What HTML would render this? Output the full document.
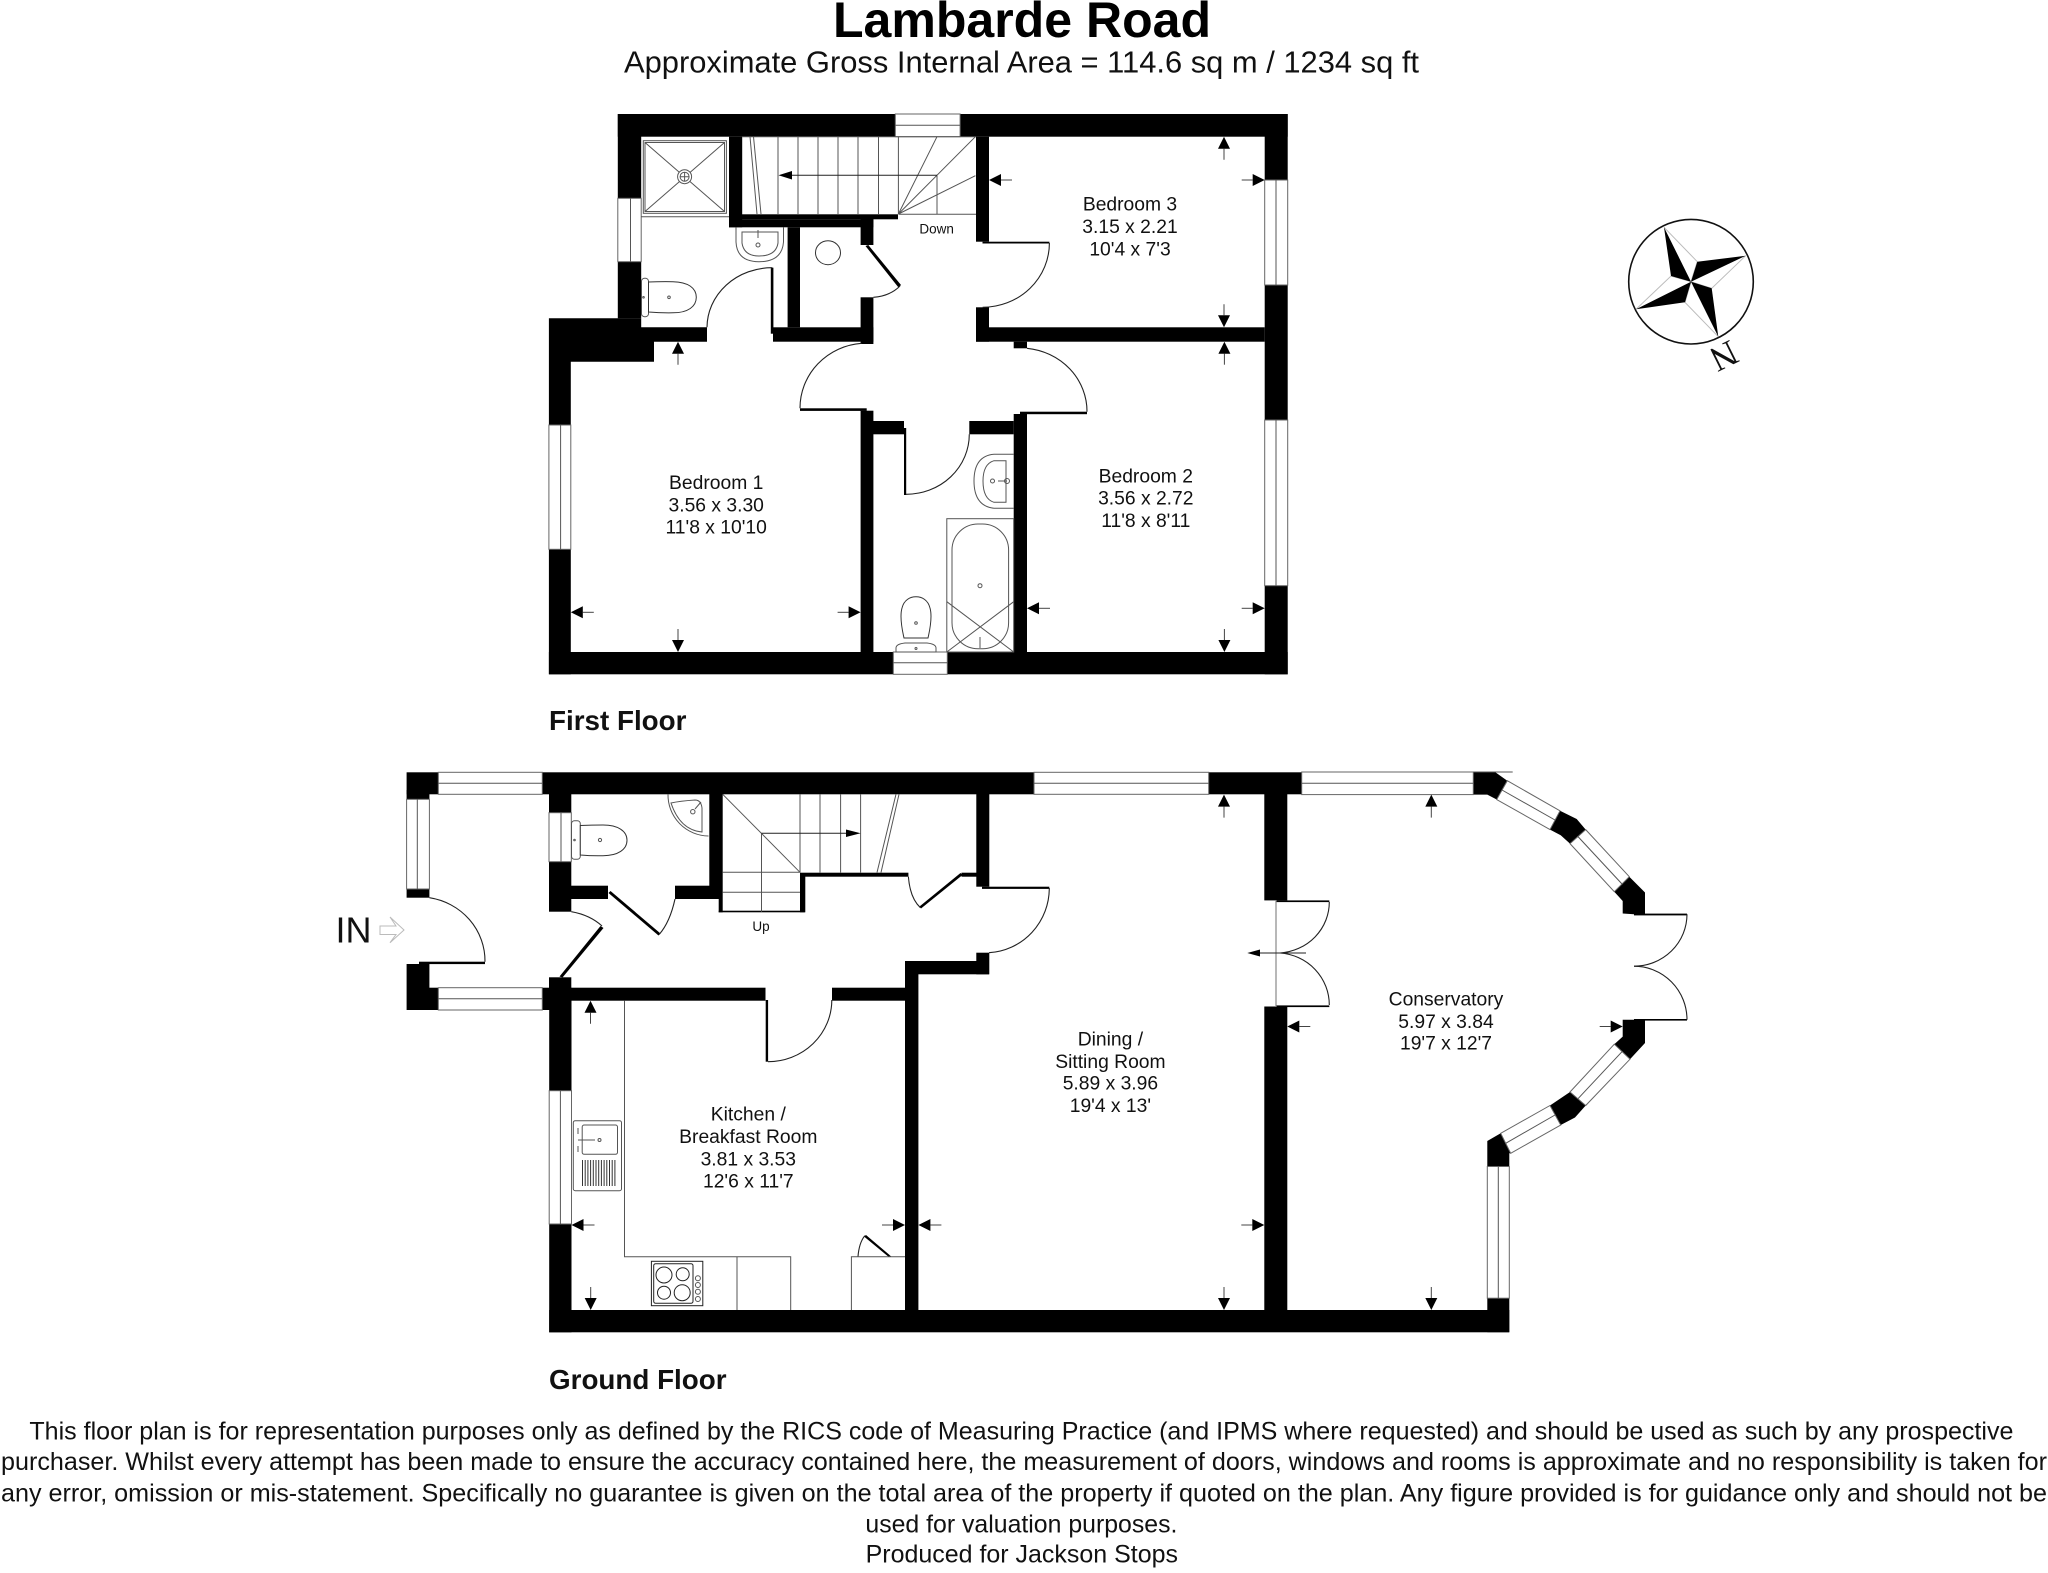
<!DOCTYPE html>
<html><head><meta charset="utf-8"><title>Lambarde Road</title>
<style>html,body{margin:0;padding:0;background:#fff}svg{display:block}
text{font-family:"Liberation Sans",sans-serif;fill:#111}
.r{font-size:19.3px;text-anchor:middle}
.w{fill:#fff;stroke:#666;stroke-width:1}
.l{fill:none;stroke:#555;stroke-width:1}
.a{fill:none;stroke:#222;stroke-width:1.1}
.f{font-size:24.8px}
</style></head><body>
<svg xmlns="http://www.w3.org/2000/svg" width="2048" height="1573" viewBox="0 0 2048 1573">
<defs>
<g id="u"><path d="M0 12V23" stroke="#444" fill="none"/><polygon points="0,0 6,12 -6,12" fill="#000"/></g>
<g id="d"><path d="M0 -12V-23" stroke="#444" fill="none"/><polygon points="0,0 6,-12 -6,-12" fill="#000"/></g>
<g id="lf"><path d="M12 0H23" stroke="#444" fill="none"/><polygon points="0,0 12,-6 12,6" fill="#000"/></g>
<g id="rt"><path d="M-12 0H-23" stroke="#444" fill="none"/><polygon points="0,0 -12,-6 -12,6" fill="#000"/></g>
</defs>
<rect width="2048" height="1573" fill="#fff"/>

<!-- titles -->
<text x="1022" y="37" text-anchor="middle" font-weight="bold" font-size="50" textLength="378" lengthAdjust="spacingAndGlyphs" style="fill:#000">Lambarde Road</text>
<text x="624" y="72.3" font-size="30.2" textLength="795" lengthAdjust="spacingAndGlyphs">Approximate Gross Internal Area = 114.6 sq m / 1234 sq ft</text>

<!-- FIRST FLOOR walls -->
<g fill="#000">
<rect x="617.8" y="114" width="277.5" height="22.7"/>
<rect x="960.1" y="114" width="327.6" height="22.7"/>
<rect x="617.8" y="114" width="23.4" height="84.3"/>
<rect x="617.8" y="261.7" width="23.4" height="56.6"/>
<polygon points="548.9,318.3 641.2,318.3 641.2,327.3 707,327.3 707,341.7 654,341.7 654,361.7 570.8,361.7 570.8,425 548.9,425"/>
<rect x="548.9" y="549.3" width="21.9" height="125"/>
<rect x="548.9" y="652" width="344.4" height="22.3"/>
<rect x="947.3" y="652" width="340.4" height="22.3"/>
<rect x="729" y="136.7" width="13.2" height="90.6"/>
<rect x="742" y="214.3" width="156" height="5"/>
<rect x="729" y="219.3" width="144.4" height="8"/>
<rect x="860.6" y="219" width="12.8" height="26"/>
<rect x="860.6" y="297.3" width="12.8" height="46.7"/>
<rect x="787.6" y="227.3" width="12.4" height="100"/>
<rect x="773" y="327.3" width="100.4" height="14.4"/>
<rect x="770.8" y="267.7" width="2.6" height="66"/>
<rect x="976" y="136.7" width="13" height="105"/>
<rect x="976" y="307.3" width="13" height="34.4"/>
<rect x="976" y="327.3" width="288.7" height="14.4"/>
<rect x="1013.7" y="341.7" width="13.3" height="6.6"/>
<rect x="1264.7" y="114" width="23" height="66"/>
<rect x="1264.7" y="285" width="23" height="135"/>
<rect x="1264.7" y="585.7" width="23" height="88.6"/>
<rect x="860.6" y="410.7" width="12.8" height="241.3"/>
<rect x="866" y="421" width="38" height="13.3"/>
<rect x="969.3" y="421" width="44.4" height="13.3"/>
<rect x="1013.7" y="414" width="13.3" height="238"/>
<rect x="904" y="428" width="2.2" height="67"/>
<rect x="800" y="408.3" width="66.7" height="2.6"/>
<rect x="1020" y="411.7" width="67" height="2.5"/>
<rect x="982.5" y="241.7" width="66.9" height="1.8"/>
<polygon points="865.5,246 868.3,245 901,285 898.5,287.5"/>
</g>
<!-- first floor windows -->
<rect class="w" x="895.3" y="114" width="64.8" height="22.7"/><path class="l" d="M895.3 125.3H960"/>
<rect class="w" x="617.8" y="198.3" width="23.4" height="63.4"/><path class="l" d="M630.5 198.3V261.7"/>
<rect class="w" x="1264.7" y="180" width="23" height="105"/><path class="l" d="M1276 180V285"/>
<rect class="w" x="1264.7" y="420" width="23" height="165.7"/><path class="l" d="M1276 420V585.7"/>
<rect class="w" x="548.9" y="425" width="21.9" height="124.3"/><path class="l" d="M560.6 425V549.3"/>
<rect class="w" x="893.3" y="652" width="54" height="22.3"/><path class="l" d="M893.3 662.7H947.3"/>
<!-- door arcs first floor -->
<g class="a">
<path d="M1049.4 243A66.8 64.3 0 0 1 982.6 307.3"/>
<path d="M772.3 267.7A65 60 0 0 0 707 327.3"/>
<path d="M900 286Q890 296 873.4 297.3"/>
<path d="M800 408.3A66.7 65 0 0 1 861.6 343.3"/>
<path d="M1087 411.7A67 63.4 0 0 0 1027 348.3"/>
<path d="M906 494.3A63 60 0 0 0 969.3 434.3"/>
</g>
<!-- first floor stairs -->
<g class="l">
<path d="M778 136.7V214M798 136.7V214M818 136.7V214M838 136.7V214M858 136.7V214M878.5 136.7V214M898.4 136.7V214"/>
<path d="M898.4 214L937 136.7M898.4 214L975.4 136.7M898.4 214L975.4 175.7M937 175.7V214.3M898.4 214.3H976M742 136.7H976"/>
<path d="M750 136.7L757 214M753.5 136.7L761 214"/>
</g>
<path d="M937 175.3H785" stroke="#222" fill="none"/><polygon points="778.5,175.3 792,171 792,179.5" fill="#000"/>
<text x="936.6" y="233.3" font-size="13.5" text-anchor="middle">Down</text>
<!-- shower -->
<g class="l">
<rect x="643.3" y="140.7" width="83.1" height="72.6"/><rect x="645" y="142.5" width="79.5" height="69"/>
<path d="M641 216.7H729M645 142.5L724.5 211.5M724.5 142.5L645 211.5"/>
<circle cx="684.6" cy="176.7" r="7" fill="#fff"/><circle cx="684.6" cy="176.7" r="4.5"/><path d="M680 176.7H689M684.6 172V181"/>
<!-- basin -->
<path d="M736 227.3V242Q737 261.7 759 261.7Q782 261.7 783.5 242V227.3"/>
<path d="M742 232V243Q744 256 759 256Q776 256 778 243V232H742Z"/>
<circle cx="758" cy="245" r="2"/><path d="M758 230V238"/>
<!-- wc -->
<rect x="641.5" y="278.3" width="7" height="38.4" rx="3"/>
<path d="M648.5 282Q660 281.5 673 281.7C688 282 696.3 288 696.3 297.3C696.3 306.5 688 312.8 673 312.8Q660 313 648.5 312Z" fill="#fff" stroke="#333"/>
<circle cx="669" cy="297.3" r="1.3"/><circle cx="643.5" cy="297.3" r="0.8"/>
<!-- cupboard -->
<ellipse cx="828" cy="252.7" rx="12.5" ry="12" stroke="#333"/>
<!-- bath basin -->
<path d="M1013.7 454.3H994Q974 456 974 481Q974 506 994 508.3H1013.7"/>
<path d="M1006 460.7H994Q983 464 983 481Q983 499 994 502.3H1006V460.7Z"/>
<circle cx="992.5" cy="481" r="2"/><circle cx="1007" cy="481" r="2.5"/><path d="M998 481H1007"/>
<!-- bath -->
<rect x="946.8" y="518.7" width="66.9" height="133.3"/>
<rect x="952" y="524" width="56.6" height="124.7" rx="26"/>
<circle cx="980" cy="585.7" r="2"/><path d="M946.8 601.7L1013.7 652M946.8 652L1013.7 601.7M980 637V648"/>
<!-- bath wc -->
<path d="M904 638C901 625 900 615 902 608C904 600 910 596.7 916 596.7C922 596.7 928 600 930 608C932 615 931 625 928 638Z" fill="#fff" stroke="#333"/>
<path d="M896 652V648Q896 644 905 643H927Q936 644 936 648V652H896Z"/>
<circle cx="916" cy="623" r="1.3"/><circle cx="916" cy="648.5" r="1"/>
</g>

<!-- arrows first floor -->
<use href="#u" x="1224" y="136.7"/><use href="#d" x="1224" y="327.3"/><use href="#lf" x="989" y="180"/><use href="#rt" x="1264.7" y="180"/>
<use href="#u" x="1224.4" y="341.7"/><use href="#d" x="1224.4" y="652"/><use href="#lf" x="1027" y="608.3"/><use href="#rt" x="1264.7" y="608.3"/>
<use href="#u" x="678" y="341.7"/><use href="#d" x="678" y="652"/><use href="#lf" x="570.8" y="612.3"/><use href="#rt" x="860.6" y="612.3"/>

<!-- room labels first floor -->
<text class="r" x="1130" y="210.7">Bedroom 3</text><text class="r" x="1130" y="233">3.15 x 2.21</text><text class="r" x="1130" y="255.3">10'4 x 7'3</text>
<text class="r" x="716.2" y="489">Bedroom 1</text><text class="r" x="716.2" y="511.3">3.56 x 3.30</text><text class="r" x="716.2" y="533.6">11'8 x 10'10</text>
<text class="r" x="1145.8" y="482.3">Bedroom 2</text><text class="r" x="1145.8" y="504.6">3.56 x 2.72</text><text class="r" x="1145.8" y="527">11'8 x 8'11</text>
<text x="549" y="730" font-weight="bold" font-size="27.8">First Floor</text>

<!-- compass -->
<circle cx="1691" cy="281.7" r="62.3" fill="#fff" stroke="#111" stroke-width="1.6"/>
<path d="M1664 227.3L1697.3 261.7L1691 281.7M1745.7 255.7L1711.7 288.3L1691 281.7M1718.3 336.7L1685 302.3L1691 281.7M1636 309.3L1671 276L1691 281.7" fill="none" stroke="#bbb" stroke-width="1"/>
<g fill="#000">
<polygon points="1691,281.7 1664,227.3 1671,276"/>
<polygon points="1691,281.7 1745.7,255.7 1697.3,261.7"/>
<polygon points="1691,281.7 1711.7,288.3 1718.3,336.7"/>
<polygon points="1691,281.7 1685,302.3 1636,309.3"/>
</g>
<text x="0" y="0" transform="translate(1724,356) rotate(153.6)" text-anchor="middle" dominant-baseline="central" font-size="36" style="font-family:'Liberation Serif',serif">N</text>

<!-- GROUND FLOOR walls -->
<g fill="#000">
<rect x="406.6" y="772.3" width="31.7" height="22"/>
<rect x="406.6" y="790" width="22.8" height="9.3"/>
<rect x="406.6" y="889" width="22.8" height="8.7"/>
<rect x="406.6" y="964" width="22.8" height="46"/>
<rect x="420" y="987.7" width="18.3" height="22.3"/>
<rect x="419" y="961.7" width="66" height="2.4"/>
<rect x="542.3" y="772.3" width="491.7" height="22"/>
<rect x="1208.7" y="772.3" width="93" height="22"/>
<rect x="542.3" y="987.7" width="29" height="22.3"/>
<rect x="549" y="794" width="22.3" height="18.7"/>
<rect x="549" y="861.7" width="22.3" height="50"/>
<rect x="549" y="977.3" width="22.3" height="12"/>
<rect x="571" y="885.7" width="37" height="13.3"/>
<rect x="675" y="885.7" width="43.7" height="13.3"/>
<rect x="709.3" y="794" width="13.4" height="105"/>
<rect x="718.7" y="899" width="4" height="13.3"/>
<rect x="718.7" y="910.7" width="86" height="1.6"/>
<rect x="800" y="873" width="5.3" height="39.3"/>
<rect x="800" y="872.7" width="108.4" height="4"/>
<rect x="961.5" y="872.7" width="15" height="4"/>
<rect x="976.3" y="794" width="13" height="92.7"/>
<rect x="982" y="886.7" width="67.3" height="2.2"/>
<rect x="976.3" y="952.7" width="13" height="21.6"/>
<rect x="905" y="961" width="84" height="13.3"/>
<rect x="905" y="961" width="13.4" height="371"/>
<rect x="571" y="987.7" width="194.5" height="13"/>
<rect x="832" y="987.7" width="73" height="13"/>
<rect x="765.7" y="1000" width="2.4" height="61.7"/>
<rect x="549.2" y="987.7" width="22.3" height="103"/>
<rect x="549.2" y="1224" width="22.3" height="108.3"/>
<rect x="549.2" y="1310" width="960.1" height="22.3"/>
<rect x="1264.3" y="794" width="23" height="106.4"/>
<rect x="1264.3" y="1006.5" width="23" height="310"/>
<rect x="1276" y="900.4" width="53.3" height="1.7"/>
<rect x="1276" y="1005.4" width="53.3" height="1.7"/>
<rect x="1487.3" y="1298.2" width="22" height="34"/>
<rect x="1634" y="913.6" width="53" height="1.8"/>
<rect x="1634" y="1019" width="53" height="1.6"/>
<polygon points="1473.3,772 1495,772 1507.3,780.7 1496.7,799.5 1487.3,794.6 1473.3,794.6"/>
<polygon points="1560,810.8 1576.7,819 1585.7,829.6 1570,843.6 1560.7,835.3 1550,829.6"/>
<polygon points="1629.3,876.7 1645,892.5 1645,915 1622.7,913.5 1622.7,901 1614.3,891.7"/>
<polygon points="1622.7,1019.7 1645,1019.7 1645,1043 1630,1059.2 1614.3,1044.2 1622.7,1036.6"/>
<polygon points="1570,1092 1550,1105.5 1560.7,1125 1575,1117.5 1585.7,1105.5"/>
<polygon points="1500.7,1133.3 1487.3,1141 1487.3,1166.5 1509.3,1166.5 1509.3,1153.3 1510.7,1153.3"/>
<!-- thick door leaves -->
<polygon points="608.5,893 610.5,891 660.5,933.5 658.5,935.5"/>
<polygon points="600.5,926 603.5,928 562.5,977.5 559.5,976.5"/>
<polygon points="960.5,873 962.5,875 921,908.5 919.5,906.5"/>
<polygon points="864,1236.5 866,1235 891.5,1256.7 888.5,1256.7"/>
</g>
<!-- ground windows -->
<rect class="w" x="438.3" y="772.3" width="104" height="22"/><path class="l" d="M438.3 783.3H542.3"/>
<rect class="w" x="406.6" y="799.3" width="22.8" height="89.7"/><path class="l" d="M417.3 799.3V889"/>
<rect class="w" x="438.3" y="987.7" width="104" height="22.3"/><path class="l" d="M438.3 998.7H542.3"/>
<rect class="w" x="549" y="812.7" width="22.3" height="49"/><path class="l" d="M561 812.7V861.7"/>
<rect class="w" x="1034" y="772.3" width="174.7" height="22"/><path class="l" d="M1034 783.3H1208.7"/>
<rect class="w" x="1301.7" y="772" width="171.6" height="22.6"/><path class="l" d="M1301.7 783.3H1473.3M1473 772H1512.7"/>
<rect class="w" x="549.2" y="1090.7" width="22.3" height="133.3"/><path class="l" d="M560.4 1090.7V1224"/>
<rect class="w" x="1487.3" y="1166.5" width="22" height="131.7"/><path class="l" d="M1498.3 1166.5V1298.2"/>
<polygon class="w" points="1507.3,780.7 1560,810.8 1550,829.6 1496.7,799.5"/><path class="l" d="M1502 790L1555 820"/>
<polygon class="w" points="1585.7,829.6 1629.3,876.7 1614.3,891.7 1570,843.6"/><path class="l" d="M1578 836.6L1622 884"/>
<polygon class="w" points="1614.3,1044.2 1570,1092 1585.7,1105.5 1630,1059.2"/><path class="l" d="M1622 1051.7L1578 1098.7"/>
<polygon class="w" points="1550,1105.5 1500.7,1133.3 1510.7,1153.3 1560.7,1125"/><path class="l" d="M1555 1115L1505.7 1143.3"/>
<!-- door arcs ground -->
<g class="a">
<path d="M429.4 897.7A66 64 0 0 1 485 961.7"/>
<path d="M659.3 934.3Q670 922 675 899"/>
<path d="M571.3 911.7Q590 915 602 926"/>
<path d="M908.4 876.7Q910 898 920.4 907.7"/>
<path d="M1049.3 888A64 64.7 0 0 1 989 952.7"/>
<path d="M768 1061.7A63.8 61.7 0 0 0 831.8 1000"/>
<path d="M1329.3 901.9A53 51 0 0 1 1280 953"/>
<path d="M1280 953A53 52 0 0 1 1329.3 1005"/>
<path d="M1687 914.3A53 52 0 0 1 1634 966.2"/>
<path d="M1634 966.2A53 53.5 0 0 1 1687 1019.7"/>
<path d="M864.8 1235.7Q859 1243 858 1256.7"/>
</g>
<!-- conservatory door frame + arrow -->
<path d="M1276 900V1007" stroke="#888" stroke-width="1.2" fill="none"/>
<path d="M1306 953H1259" stroke="#222" fill="none"/><polygon points="1247.3,953 1260,949.5 1260,956.5" fill="#000"/>
<!-- ground stairs -->
<g class="l">
<path d="M800 794.3V872.5M820 794.3V872.5M840.6 794.3V872.5M860.6 794.3V872.5"/>
<path d="M722.7 794.3L800 872.3M761.5 833.3V911.7M722.7 872.3H800M722.7 892.3H800"/>
<path d="M899 794.3L881 872.5M896 794.3L877 872.5"/>
</g>
<path d="M761.5 833.3H850" stroke="#222" fill="none"/><polygon points="860.6,833.3 846,829.5 846,837" fill="#000"/>
<text x="761" y="931" font-size="13.5" text-anchor="middle">Up</text>
<!-- wc + basin ground -->
<g class="l">
<path d="M668 794.3A41 41 0 0 0 708.5 836"/>
<path d="M671 803Q680 801 695 800Q701 800 702 808L702 832Q680 830 671 803Z"/>
<circle cx="692.8" cy="811.7" r="2.2"/><path d="M695 809L701 802"/>
<rect x="571.5" y="820.7" width="8.8" height="38.6" rx="3"/>
<path d="M580.3 825.5Q592 825 603 825C618 825 627 831 627 840.3C627 849.5 618 855.7 603 855.7Q592 856 580.3 855Z" fill="#fff" stroke="#333"/>
<circle cx="600" cy="840" r="1.6"/><circle cx="574.5" cy="840" r="0.8"/>
<!-- kitchen units -->
<path d="M624.5 1000.7V1256.7H790.7V1310M737 1256.7V1310M851.4 1310V1256.7H905"/>
<!-- sink -->
<rect x="573.3" y="1120.7" width="48.2" height="70" rx="2"/>
<rect x="582.2" y="1125" width="35.3" height="29.3" rx="2"/>
<path d="M578 1140H595M578 1128V1134M578 1146V1152"/><circle cx="599.5" cy="1140" r="1.5"/>
<path d="M582.5 1160V1186M585.2 1160V1186M587.9 1160V1186M590.6 1160V1186M593.3 1160V1186M596 1160V1186M598.7 1160V1186M601.4 1160V1186M604.1 1160V1186M606.8 1160V1186M609.5 1160V1186M612.2 1160V1186M614.9 1160V1186" stroke="#333"/>
<!-- hob -->
<rect x="651.4" y="1261.3" width="51.4" height="44.4" stroke="#222"/>
<rect x="653.7" y="1263.7" width="39.3" height="39.6" rx="2" stroke="#222"/>
<circle cx="664" cy="1275" r="8" stroke="#222"/><circle cx="682.7" cy="1274.3" r="6.5" stroke="#222"/>
<circle cx="664" cy="1292.7" r="6.5" stroke="#222"/><circle cx="682.2" cy="1292.7" r="8" stroke="#222"/>
<circle cx="697.9" cy="1278.3" r="2.5"/><circle cx="697.9" cy="1285" r="2.5"/><circle cx="697.9" cy="1291.7" r="2.5"/><circle cx="697.9" cy="1299" r="2.5"/>
</g>
<!-- IN -->
<text x="335.5" y="942.7" font-size="36">IN</text>
<polygon points="380,926 396,926 390,917 404,930 390,942.7 396,934.5 380,934.5" fill="#fff" stroke="#bbb" stroke-width="1"/>
<!-- arrows ground -->
<use href="#u" x="590.5" y="1000.7"/><use href="#d" x="590.7" y="1310"/><use href="#lf" x="571.5" y="1225"/><use href="#rt" x="905" y="1225"/>
<use href="#u" x="1224" y="794.6"/><use href="#d" x="1224" y="1310"/><use href="#lf" x="918.4" y="1225"/><use href="#rt" x="1264.3" y="1225"/>
<use href="#u" x="1431.3" y="794.6"/><use href="#d" x="1431.3" y="1310"/><use href="#lf" x="1287.3" y="1026.5"/><use href="#rt" x="1622.7" y="1026.5"/>
<!-- labels ground -->
<text class="r" x="748.3" y="1120.6">Kitchen /</text><text class="r" x="748.3" y="1143">Breakfast Room</text><text class="r" x="748.3" y="1165.3">3.81 x 3.53</text><text class="r" x="748.3" y="1187.6">12'6 x 11'7</text>
<text class="r" x="1110.4" y="1045.3">Dining /</text><text class="r" x="1110.4" y="1068">Sitting Room</text><text class="r" x="1110.4" y="1089.6">5.89 x 3.96</text><text class="r" x="1110.4" y="1112">19'4 x 13'</text>
<text class="r" x="1446" y="1005.7">Conservatory</text><text class="r" x="1446" y="1028">5.97 x 3.84</text><text class="r" x="1446" y="1049.7">19'7 x 12'7</text>
<text x="549" y="1389" font-weight="bold" font-size="27.8">Ground Floor</text>

<!-- footer -->
<text class="f" x="29.4" y="1439.3" textLength="1984" lengthAdjust="spacingAndGlyphs">This floor plan is for representation purposes only as defined by the RICS code of Measuring Practice (and IPMS where requested) and should be used as such by any prospective</text>
<text class="f" x="1" y="1470" textLength="2046" lengthAdjust="spacingAndGlyphs">purchaser. Whilst every attempt has been made to ensure the accuracy contained here, the measurement of doors, windows and rooms is approximate and no responsibility is taken for</text>
<text class="f" x="1" y="1501.7" textLength="2046" lengthAdjust="spacingAndGlyphs">any error, omission or mis-statement. Specifically no guarantee is given on the total area of the property if quoted on the plan. Any figure provided is for guidance only and should not be</text>
<text class="f" x="865.4" y="1532.3" textLength="312" lengthAdjust="spacingAndGlyphs">used for valuation purposes.</text>
<text class="f" x="865.6" y="1562.3" textLength="312.4" lengthAdjust="spacingAndGlyphs">Produced for Jackson Stops</text>
</svg>
</body></html>
